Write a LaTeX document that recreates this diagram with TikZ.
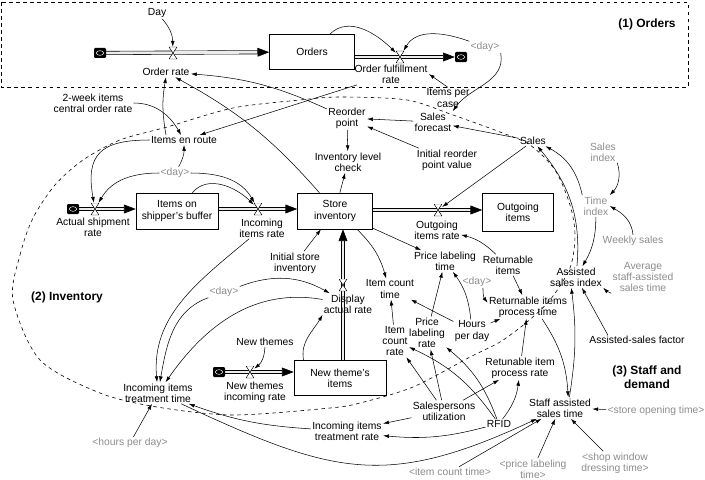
\documentclass[tikz,border=0pt]{standalone}
\usepackage{fontspec}
\setmainfont{Liberation Sans}
\usetikzlibrary{arrows.meta,backgrounds}
\definecolor{shadowgray}{gray}{0.55}

\begin{document}
\begin{tikzpicture}[x=0.03cm, y=-0.03cm,
    font=\fontsize{8.8}{9.6}\selectfont,
    aux/.style={align=center, inner sep=1pt},
    shadowvar/.style={aux, text=shadowgray},
    stock/.style={draw, align=center, inner sep=2pt, line width=0.5pt},
    valve/.style={minimum width=0.24cm, minimum height=0.36cm, inner sep=0pt,
                  path picture={\draw[fill=white, line width=0.4pt]
                    (path picture bounding box.north west) -- (path picture bounding box.north east)
                    -- (path picture bounding box.south west) -- (path picture bounding box.south east) -- cycle;}},
    flowend/.style={fill=black, rounded corners=1pt, minimum width=0.36cm, minimum height=0.3cm, inner sep=0pt,
                  path picture={\draw[white, line width=0.4pt] (path picture bounding box.center) ellipse (0.11cm and 0.07cm);}},
    pipe/.style={double=gray!15, double distance=2.4pt, line width=0.5pt, -{Triangle[length=10pt,width=7.5pt]}},
    link/.style={-{Latex[length=5pt,width=3.2pt]}, line width=0.45pt},
    region/.style={dashed, line width=0.5pt},
    title/.style={font=\fontsize{10.2}{11.5}\selectfont\bfseries, align=center}
  ]
  \useasboundingbox (0,0) rectangle (705,479);

  % (1) orders
  \draw[region] (1,2) rectangle (688,87);
  \node[title] at (647,24) {(1) Orders};
  \node[aux] (day1) at (157,13) {Day};
  \node[flowend] (src1) at (100,53) {};
  \node[valve] (vor) at (173,53) {};
  \node[aux] (orate) at (166,72) {Order rate};
  \node[stock, minimum width=2.55cm, minimum height=1.05cm] (orders) at (312,52) {Orders};
  \node[valve] (vof) at (400,57) {};
  \node[flowend] (sink1) at (461,57) {};
  \node[aux] (ofrate) at (391,74) {Order fulfillment\\rate};
  \node[shadowvar] (dayA) at (485,47) {<day>};
  \node[aux] (ipc) at (448,98) {Items per\\case};

  % (2) inventory
  \draw[region] plot[smooth cycle] coordinates {(13,300) (20,255) (33,218) (55,185) (83,160) (120,140)
    (167,127) (233,108) (300,100) (340,97) (407,100) (453,115) (500,132) (530,145) (555,170)
    (570,205) (575,235) (570,268) (550,300) (527,322) (500,342) (470,357) (413,387) (360,403)
    (330,408) (233,415) (157,407) (100,393) (40,360)};
  \node[title] at (67,297) {(2) Inventory};
  \node[aux] (twoweek) at (93,103) {2-week items\\central order rate};
  \node[aux] (ier) at (184,140) {Items en route};
  \node[aux] (rop) at (347,118) {Reorder\\point};
  \node[aux] (sf) at (433,122) {Sales\\forecast};
  \node[aux] (irp) at (447,160) {Initial reorder\\point value};
  \node[aux] (ilc) at (348,162) {Inventory level\\check};
  \node[shadowvar] (dayB) at (175,173) {<day>};
  \node[flowend] (src2) at (73,209) {};
  \node[valve] (vas) at (95,209) {};
  \node[aux] (asr) at (93,227) {Actual shipment\\rate};
  \node[stock, minimum width=2.46cm, minimum height=1.08cm] (buffer) at (177,211) {Items on\\shipper's buffer};
  \node[valve] (vii) at (258,209) {};
  \node[aux] (iir) at (262,228) {Incoming\\items rate};
  \node[stock, minimum width=2.25cm, minimum height=1.08cm] (store) at (335,211) {Store\\inventory};
  \node[valve] (vout) at (438,210) {};
  \node[aux] (oir) at (437,230) {Outgoing\\items rate};
  \node[stock, minimum width=2.13cm, minimum height=1.14cm] (outg) at (518,212) {Outgoing\\items};
  \node[aux] (isi) at (295,263) {Initial store\\inventory};
  \node[valve] (vda) at (343,285) {};
  \node[aux] (dar) at (348,304) {Display\\actual rate};
  \node[shadowvar] (dayC) at (224,292) {<day>};
  \node[stock, minimum width=2.76cm, minimum height=1.05cm] (nti) at (340,378) {New theme's\\items};
  \node[flowend] (src3) at (219,372) {};
  \node[valve] (vnt) at (250,372) {};
  \node[aux] (ntr) at (255,392) {New themes\\incoming rate};
  \node[aux] (nt) at (265,342) {New themes};
  \node[aux] (iitt) at (158,393) {Incoming items\\treatment time};
  \node[shadowvar] (hpd) at (130,443) {<hours per day>};

  % (3) staff and demand
  \node[title] at (647,377) {(3) Staff and\\demand};
  \node[aux] (sales) at (533,141) {Sales};
  \node[shadowvar] (sidx) at (603,152) {Sales\\index};
  \node[shadowvar] (tidx) at (596,206) {Time\\index};
  \node[shadowvar] (wsal) at (633,241) {Weekly sales};
  \node[shadowvar] (avg) at (643,277) {Average\\staff-assisted\\sales time};
  \node[aux] (asi) at (576,277) {Assisted\\sales index};
  \node[aux] (plt) at (445,261) {Price labeling\\time};
  \node[aux] (ict) at (390,289) {Item count\\time};
  \node[aux] (ri) at (508,265) {Returnable\\items};
  \node[shadowvar] (dayD) at (477,282) {<day>};
  \node[aux] (ript) at (528,307) {Returnable items\\process time};
  \node[aux] (icr) at (395,341) {Item\\count\\rate};
  \node[aux] (plr) at (427,333) {Price\\labeling\\rate};
  \node[aux] (hpd2) at (472,331) {Hours\\per day};
  \node[aux] (asf) at (637,340) {Assisted-sales factor};
  \node[aux] (ripr) at (520,368) {Retunable item\\process rate};
  \node[aux] (su) at (444,411) {Salespersons\\utilization};
  \node[aux] (rfid) at (499,424) {RFID};
  \node[aux] (sast) at (560,408) {Staff assisted\\sales time};
  \node[shadowvar] (sot) at (656,411) {<store opening time>};
  \node[aux] (iitr) at (347,431) {Incoming items\\treatment rate};
  \node[shadowvar] (ictS) at (450,472) {<item count time>};
  \node[shadowvar] (pltS) at (533,469) {<price labeling\\time>};
  \node[shadowvar] (swd) at (615,463) {<shop window\\dressing time>};

  % flows
  \begin{scope}[on background layer]
    \draw[pipe] (src1) -- (orders);
    \draw[pipe] (orders.east |- vof) -- (sink1);
    \draw[pipe] (src2) -- (buffer.west |- vas);
    \draw[pipe] (buffer.east |- vii) -- (store.west |- vii);
    \draw[pipe] (store.east |- vout) -- (outg.west |- vout);
    \draw[pipe] (src3) -- (nti.west |- vnt);
    \draw[pipe] (nti.north -| vda) -- (store.south -| vda);
  \end{scope}

  % links, orders
  \draw[link] (day1) to[bend left=20] (vor);
  \draw[link] (orders) to[out=45, in=135] (vof);
  \draw[link] (dayA) to[out=160, in=60] (vof);
  \draw[link] (dayA.south east) to[out=-80, in=55] (sf.north east);
  \draw[link] (ipc.north) -- (ofrate.east);
  \draw[link] (ier.north -| orate.south) to[bend left=10] (orate.south);
  \draw[link] (rop) to[bend right=10] (orate);
  \draw[link] (store) to[bend right=10] (orate);
  \draw[link] (ofrate) -- (ier);
  \draw[link] (twoweek.east) to[out=0, in=120] (ier);

  % links, inventory
  \draw[link] (sf) -- (rop);
  \draw[link] (irp) -- (rop);
  \draw[link] (rop) -- (ilc);
  \draw[link] (store) -- (ilc);
  \draw[link] (dayB) to[bend right=15] (ier);
  \draw[link] (dayB) to[out=180, in=60] (vas);
  \draw[link] (dayB) to[out=0, in=120] (vii);
  \draw[link] (buffer) to[out=50, in=135] (vii);
  \draw[link] (ier) to[out=180, in=100, looseness=1.5] (vas);
  \draw[link] (isi) -- (store);
  \draw[link] (dayC) to[bend left=25] (dar);
  \draw[link] (nti.154) to[out=100, in=-120] (dar.south west);
  \draw[link] (nt) to[bend left=25] (vnt);
  \draw[link] (iir) to[out=-140, in=95] (iitt);
  \draw[link] (dayC) to[out=-160, in=80] (iitt);
  \draw[link] (dar) to[out=170, in=55] (iitt);
  \draw[link] (hpd) -- (iitt);
  \draw[link] (iitr) to[bend left=8] (iitt);
  \draw[link] (iitt) to[out=-25, in=-155, looseness=1.2] (sast);

  % links, staff and demand
  \draw[link] (sales) -- (sf);
  \draw[link] (sales) -- (vout);
  \draw[link] (sidx.south east) to[bend left=30] (tidx.north east);
  \draw[link] (wsal.north) to[out=95, in=-30] (tidx.east);
  \draw[link] (tidx) to[bend left=15] (asi);
  \draw[link] (tidx.north west) to[bend right=25] (sales);
  \draw[link] (asi) to[out=85, in=-50] (sales);
  \draw[link] (avg.south west) to[bend left=10] (asi.south east);
  \draw[link] ([xshift=-25pt]asf.north) -- (asi);
  \draw[link] ([xshift=8pt]sast.north) to[bend right=8] ([xshift=-4pt]asi.south);
  \draw[link] ([xshift=12pt]ript.south) to[bend left=15] ([xshift=7pt]sast.north);
  \draw[link] (ri) to[bend right=15] (oir);
  \draw[link] (ri) -- (ript);
  \draw[link] (dayD) to[bend right=20] (ript);
  \draw[link] (hpd2) -- (ript);
  \draw[link] (ripr) -- (ript);
  \draw[link] (store) -- (plt);
  \draw[link] (store) to[bend left=15] (ict);
  \draw[link] (icr) -- (ict);
  \draw[link] (plr) -- (plt);
  \draw[link] (hpd2) to[bend right=15] (plt);
  \draw[link] (hpd2) -- (ict);
  \draw[link] (su) -- (icr);
  \draw[link] (su) -- (plr);
  \draw[link] (su) -- (ripr);
  \draw[link] (su) -- (iitr);
  \draw[link] (rfid) to[bend right=15] (icr);
  \draw[link] (rfid) to[bend right=15] (plr);
  \draw[link] (rfid) to[bend right=15] (ripr);
  \draw[link] (rfid) to[bend left=10] (iitr);
  \draw[link] (ictS) -- (sast);
  \draw[link] (pltS) -- (sast);
  \draw[link] (swd) -- (sast);
  \draw[link] (sot) -- (sast);
\end{tikzpicture}
\end{document}
